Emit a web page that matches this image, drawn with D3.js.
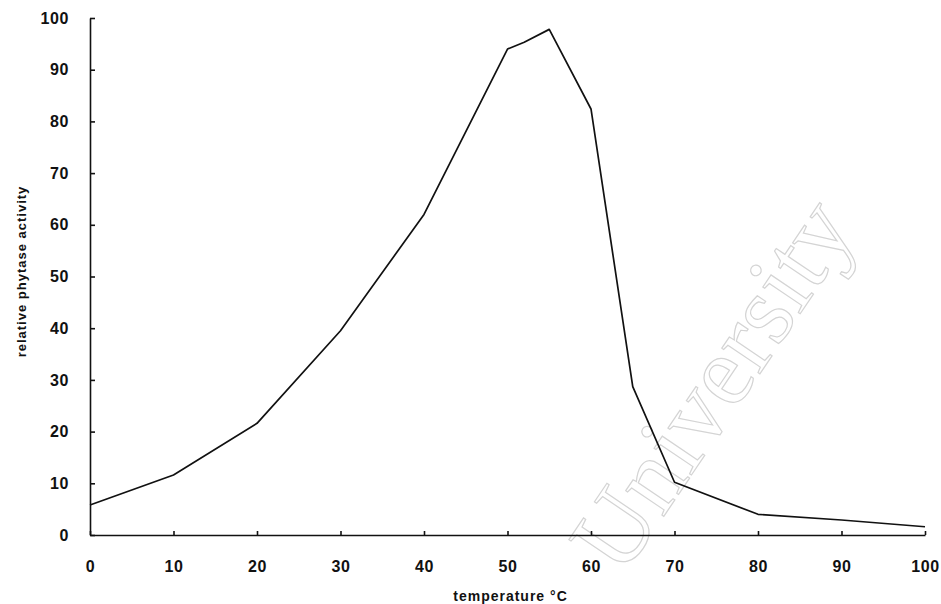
<!DOCTYPE html>
<html>
<head>
<meta charset="utf-8">
<script src="https://cdn.jsdelivr.net/npm/d3@7"></script>
<style>
  body { margin: 0; background: #fff; }
  .axis text { font-family: "Liberation Sans", Arial, sans-serif; font-weight: bold; font-size: 16px; letter-spacing: 0.6px; fill: #111; }
  .axis path, .axis line { stroke: #111; stroke-width: 1.6; }
</style>
</head>
<body>
<div class="chart"></div>
<script>
// temperature (°C) and relative phytase activity
var temperature = [0, 10, 20, 30, 40, 50, 52, 55, 60, 65, 70, 80, 90, 100];
var activity = [5.8, 11.6, 21.6, 39.5, 62, 94, 95.3, 97.8, 82.4, 28.7, 10.2, 4.0, 2.9, 1.6];

var xTicks = [0, 10, 20, 30, 40, 50, 60, 70, 80, 90, 100];
var yTicks = [0, 10, 20, 30, 40, 50, 60, 70, 80, 90, 100];

var xTitle = "temperature °C";
var yTitle = "relative phytase activity";

var width = 941;
var height = 604;

var svg = d3.select(".chart").append("svg")
	.attr("width", width)
	.attr("height", height);

var x = d3.scaleLinear().domain([0, 100]).range([90, 925]);
var y = d3.scaleLinear().domain([0, 100]).range([535, 18]);

// faint outlined watermark, as on the scanned page
svg.append("text")
	.attr("transform", "translate(622,578) rotate(-56)")
	.attr("font-family", "Liberation Serif, serif")
	.attr("font-size", 100)
	.attr("fill", "none")
	.attr("stroke", "#d4d4d4")
	.attr("stroke-width", 1.2)
	.text("University");

// y axis, ticks point inward
svg.append("g")
	.attr("class", "axis")
	.attr("transform", "translate(" + x(0) + ",0)")
	.call(d3.axisLeft(y)
		.tickValues(yTicks)
		.tickSizeInner(-5)
		.tickSizeOuter(0)
		.tickPadding(21));

// x axis
svg.append("g")
	.attr("class", "axis")
	.attr("transform", "translate(0," + y(0) + ")")
	.call(d3.axisBottom(x)
		.tickValues(xTicks)
		.tickSizeInner(-4)
		.tickSizeOuter(0)
		.tickPadding(26));

var points = temperature.map(function(t, i) {
	return { t: t, a: activity[i] };
});

var line = d3.line()
	.x(function(d) { return x(d.t); })
	.y(function(d) { return y(d.a); });

svg.append("path")
	.datum(points)
	.attr("d", line)
	.attr("fill", "none")
	.attr("stroke", "#111")
	.attr("stroke-width", 1.7)
	.attr("stroke-linejoin", "round");

// axis titles
svg.append("text")
	.attr("x", x(50) + 3)
	.attr("y", 601)
	.attr("text-anchor", "middle")
	.attr("font-family", "Liberation Sans, Arial, sans-serif")
	.attr("font-weight", "bold")
	.attr("font-size", 14)
	.attr("letter-spacing", 1)
	.attr("fill", "#111")
	.text(xTitle);

svg.append("text")
	.attr("transform", "translate(26," + (y(50) - 5) + ") rotate(-90)")
	.attr("text-anchor", "middle")
	.attr("font-family", "Liberation Sans, Arial, sans-serif")
	.attr("font-weight", "bold")
	.attr("font-size", 13)
	.attr("letter-spacing", 1)
	.attr("fill", "#111")
	.text(yTitle);
</script>
</body>
</html>
